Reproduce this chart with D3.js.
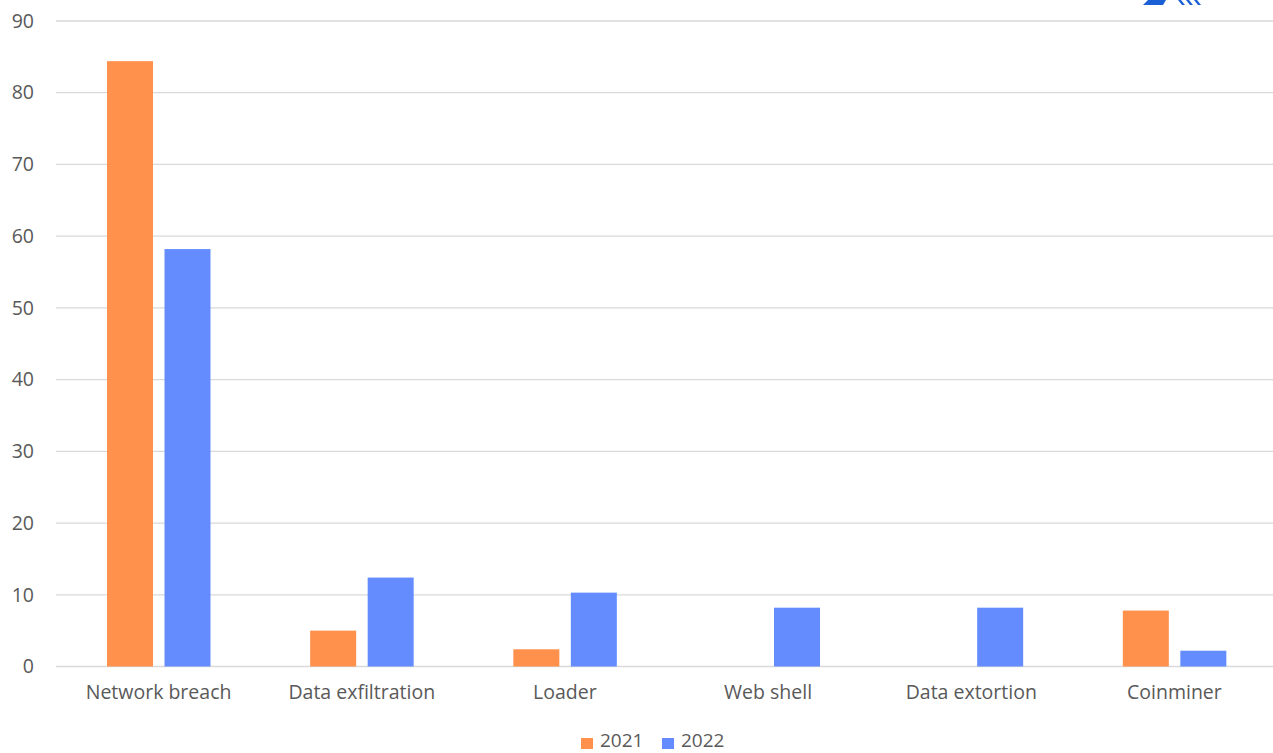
<!DOCTYPE html>
<html>
<head>
<meta charset="utf-8">
<script src="https://cdn.jsdelivr.net/npm/d3@7"></script>
<style>
  body { margin: 0; background: #fff; overflow: hidden; }
  svg { display: block; }
  svg text { font-family: "Open Sans", "Liberation Sans", sans-serif; fill: #595959; }
</style>
</head>
<body>
<svg></svg>
<script>
// data
let categories = ['Network breach', 'Data exfiltration', 'Loader', 'Web shell', 'Data extortion', 'Coinminer']
let years = ['2021', '2022']
let values2021 = [84.4, 5.0, 2.4, 0, 0, 7.8]
let values2022 = [58.2, 12.4, 10.3, 8.2, 8.2, 2.2]
let yTicks = [0, 10, 20, 30, 40, 50, 60, 70, 80, 90]

let width = 1273
let height = 753
let color = d3.scaleOrdinal().domain(years).range(['#ff914d', '#648cff'])

let svg = d3.select('svg').attr('width', width).attr('height', height)

let rows = categories.map((c, i) => ({ cat: c, '2021': values2021[i], '2022': values2022[i] }))

let xScale = d3.scaleBand().domain(categories).range([57, 1276])
let xInner = d3.scaleBand().domain(years).range([50, 153.5]).paddingInner(0.2)
let yScale = d3.scaleLinear().domain([0, 90]).range([666.5, 21])

// gridlines
svg.append('g')
  .selectAll('line')
  .data(yTicks)
  .enter()
  .append('line')
  .attr('x1', 56)
  .attr('x2', width)
  .attr('y1', d => yScale(d))
  .attr('y2', d => yScale(d))
  .attr('stroke', '#d9d9d9')
  .attr('stroke-width', 1.3)

// y axis labels
let yAxis = d3.axisLeft(yScale).tickValues(yTicks).tickSize(0).tickPadding(0)
let yg = svg.append('g').attr('transform', 'translate(34,0)').call(yAxis)
yg.select('.domain').remove()
yg.selectAll('text').style('font-size', '19.5px').attr('fill', '#595959').style('font-family', null)

// bars
let groups = svg.append('g')
  .selectAll('g')
  .data(rows)
  .enter()
  .append('g')
  .attr('transform', d => `translate(${xScale(d.cat)},0)`)

groups.selectAll('rect')
  .data(d => years.map(y => ({ year: y, value: d[y] })))
  .enter()
  .filter(d => d.value > 0)
  .append('rect')
  .attr('x', d => xInner(d.year))
  .attr('width', xInner.bandwidth())
  .attr('y', d => yScale(d.value))
  .attr('height', d => yScale(0) - yScale(d.value))
  .attr('fill', d => color(d.year))

// x axis labels
let xAxis = d3.axisBottom(xScale).tickSize(0).tickPadding(0)
let xg = svg.append('g').attr('transform', 'translate(0,685)').call(xAxis)
xg.select('.domain').remove()
xg.selectAll('text').style('font-size', '19.5px').attr('fill', '#595959').style('font-family', null)

// legend
let legend = svg.append('g').attr('transform', 'translate(581,0)')
let legendItems = legend.selectAll('g')
  .data(years)
  .enter()
  .append('g')
  .attr('transform', (d, i) => `translate(${i * 81},0)`)

legendItems.append('rect')
  .attr('y', 738)
  .attr('width', 12)
  .attr('height', 11)
  .attr('fill', d => color(d))

legendItems.append('text')
  .attr('x', 19)
  .attr('y', 747)
  .style('font-size', '19px')
  .text(d => d)

// logo fragment top right
let logo = svg.append('g').attr('fill', '#1a5fd6')
logo.append('path').attr('d', 'M1148,0 L1166,0 L1163,5 L1143,5 Z')
;[0, 8, 16].forEach(dx => {
  logo.append('path').attr('d', `M${1178 + dx},0 L${1181 + dx},0 L${1185 + dx},5 L${1182 + dx},5 Z`)
})
</script>
</body>
</html>
